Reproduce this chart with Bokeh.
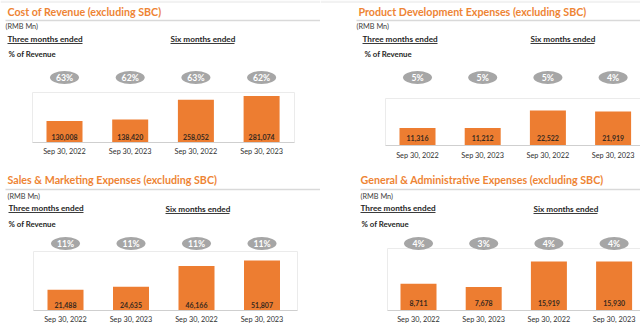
from bokeh.plotting import figure
from bokeh.models import Range1d
from bokeh.layouts import column, row
from bokeh.embed import file_html
from bokeh.resources import INLINE
from bokeh.core.properties import value

# ---------------- data ----------------
titles = [
    "Cost of Revenue (excluding SBC)",
    "Product Development Expenses (excluding SBC)",
    "Sales & Marketing Expenses (excluding SBC)",
    "General & Administrative Expenses (excluding SBC)",
]
categories = ["Sep 30, 2022", "Sep 30, 2023", "Sep 30, 2022", "Sep 30, 2023"]
cost_of_revenue = [130008, 138420, 258052, 281074]
cost_of_revenue_pct = ["63%", "62%", "63%", "62%"]
product_development = [11316, 11212, 22522, 21919]
product_development_pct = ["5%", "5%", "5%", "4%"]
sales_marketing = [21488, 24635, 46166, 51807]
sales_marketing_pct = ["11%", "11%", "11%", "11%"]
general_admin = [8711, 7678, 15919, 15930]
general_admin_pct = ["4%", "3%", "4%", "4%"]
unit_label = "(RMB Mn)"
period_labels = ["Three months ended", "Six months ended"]
pct_label = "% of Revenue"

series = [cost_of_revenue, product_development, sales_marketing, general_admin]
pcts = [cost_of_revenue_pct, product_development_pct, sales_marketing_pct, general_admin_pct]

# ---------------- layout (panel-local pixels, y from top) ----------------
W, H = 320, 163
geom = [
    dict(title=(7, 11), sep=(5, 320, 20), rmb=(5, 26), three=(7, 38), six=(170, 38), pct=(8, 53),
         ell_y=77, c0=64, step=65.7, frame=(32, 294, 92), base=142, px_per=46.5 / 281074,
         val_y=136, cat_y=151, band=True),
    dict(title=(38, 11), sep=(36, 320, 20), rmb=(36, 26), three=(42, 38), six=(210, 38), pct=(44, 53),
         ell_y=77, c0=97, step=65.2, frame=(65, 325, 98), base=145, px_per=35 / 22522,
         val_y=137, cat_y=155, band=True),
    dict(title=(7, 16), sep=(5, 320, 26), rmb=(7, 33), three=(8, 44), six=(165, 45), pct=(8, 60),
         ell_y=80, c0=65, step=65.5, frame=(33, 297, 88), base=147, px_per=50 / 51807,
         val_y=141, cat_y=156, band=False),
    dict(title=(40, 16), sep=(40, 320, 26), rmb=(40, 33), three=(40, 44), six=(213, 45), pct=(41, 60),
         ell_y=80, c0=98, step=65.2, frame=(67, 325, 85), base=147, px_per=49 / 15930,
         val_y=139, cat_y=156, band=False),
]

FONT = value("Lato")
ORANGE = "#ED7D31"
TITLE_ORANGE = "#EE8434"
GRAY_ELL = "#A6A6A6"


def make_panel(i):
    g = geom[i]
    vals = series[i]
    idx = list(range(len(vals)))
    s = g["step"]
    p = figure(width=W, height=H, output_backend="svg", toolbar_location=None,
               x_range=Range1d(-g["c0"] / s, (W - g["c0"]) / s),
               y_range=Range1d(-(H - g["base"]) / g["px_per"], g["base"] / g["px_per"]),
               min_border=0, min_border_left=0, min_border_right=0,
               min_border_top=0, min_border_bottom=0)
    p.extra_x_ranges = {"px": Range1d(0, W)}
    p.extra_y_ranges = {"py": Range1d(H, 0)}
    p.axis.visible = False
    p.grid.visible = False
    p.outline_line_color = None
    p.background_fill_color = "white"
    p.border_fill_color = "white"

    kw = dict(x_range_name="px", y_range_name="py")
    if g["band"]:
        p.quad(left=0, right=W, top=0, bottom=2.5, fill_color="#F2F2F2", line_color=None, **kw)

    # title + separator
    p.text(x=[g["title"][0]], y=[g["title"][1]], text=[titles[i]], text_font=FONT,
           text_font_style="bold", text_font_size="10.7px", text_color=TITLE_ORANGE,
           text_baseline="middle", text_align="left", **kw)
    x0, x1, ys = g["sep"]
    p.segment(x0=[x0], x1=[x1], y0=[ys], y1=[ys], line_color="#D9D9D9", line_width=1.5, **kw)

    p.text(x=[g["rmb"][0]], y=[g["rmb"][1]], text=[unit_label], text_font=FONT,
           text_font_size="7.3px", text_color="#404040", text_baseline="middle", **kw)

    for (key, lab, uw) in (("three", period_labels[0], 75), ("six", period_labels[1], 64)):
        tx, ty = g[key]
        p.text(x=[tx], y=[ty], text=[lab], text_font=FONT, text_font_style="bold",
               text_font_size="8.2px", text_color="#262626", text_baseline="middle", **kw)
        p.segment(x0=[tx], x1=[tx + uw], y0=[ty + 5], y1=[ty + 5], line_color="#262626",
                  line_width=0.9, **kw)

    p.text(x=[g["pct"][0]], y=[g["pct"][1]], text=[pct_label], text_font=FONT,
           text_font_style="bold", text_font_size="7.8px", text_color="#262626",
           text_baseline="middle", **kw)

    # plot frame
    fl, fr, ft = g["frame"]
    p.segment(x0=[fl, fl], x1=[fr, fl], y0=[ft, ft], y1=[ft, g["base"]],
              line_color="#EBEBEB", line_width=1, **kw)
    p.segment(x0=[fr], x1=[fr], y0=[ft], y1=[g["base"]], line_color="#EBEBEB", line_width=1, **kw)

    # bars
    p.vbar(x=idx, top=vals, bottom=0, width=36 / s, fill_color=ORANGE, line_color=None)
    p.segment(x0=[fl], x1=[fr], y0=[g["base"]], y1=[g["base"]], line_color="#CFCFCF",
              line_width=1.2, **kw)

    # percent ellipses
    p.ellipse(x=idx, y=[g["ell_y"]] * 4, width=29, height=13, width_units="screen",
              height_units="screen", fill_color=GRAY_ELL, line_color=None, y_range_name="py")
    p.text(x=idx, y=[g["ell_y"]] * 4, text=pcts[i], text_font=FONT, text_font_style="bold",
           text_font_size="8.7px", text_color="white", text_align="center",
           text_baseline="middle", y_range_name="py")

    # value labels
    p.text(x=idx, y=[g["val_y"]] * 4, text=[f"{v:,}" for v in vals], text_font=FONT,
           text_font_style="bold", text_font_size="7px", text_color="#3A2A1E",
           text_align="center", text_baseline="middle", y_range_name="py")
    # category labels
    p.text(x=idx, y=[g["cat_y"]] * 4, text=categories, text_font=FONT,
           text_font_size="7.3px", text_color="#303030", text_align="center",
           text_baseline="middle", y_range_name="py")
    return p


panels = [make_panel(i) for i in range(4)]
layout = column(row(panels[0], panels[1], spacing=0), row(panels[2], panels[3], spacing=0), spacing=0)
open("out.html", "w").write(file_html(layout, INLINE))
